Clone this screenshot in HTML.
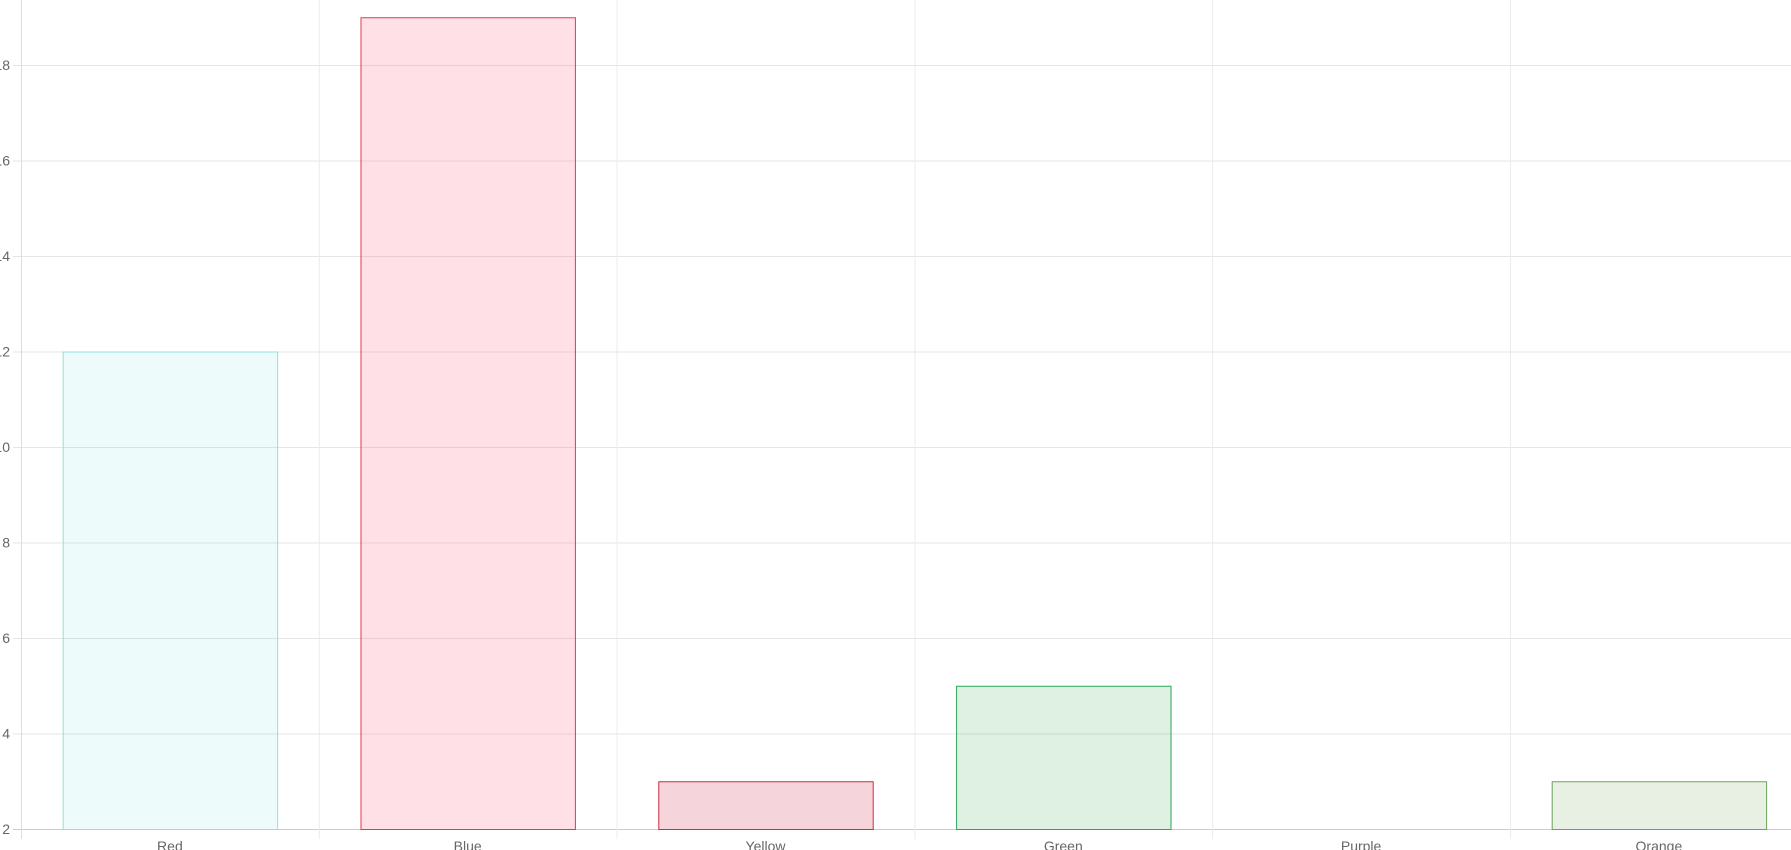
<!DOCTYPE html>
<html><head><meta charset="utf-8"><style>
html,body{margin:0;padding:0;background:#fff;overflow:hidden}
svg{display:block;font-family:"Liberation Sans",sans-serif}
</style></head><body>
<svg id="chart" width="1791" height="850" viewBox="0 0 1791 850"></svg>
<script>
const categories=["Red","Blue","Yellow","Green","Purple","Orange"];
const values=[12,19,3,5,2,3];
const yTicks=[2,4,6,8,10,12,14,16,18];
const fills=["rgba(75,220,220,0.1)","rgba(255,99,132,0.2)","rgba(210,60,90,0.22)","rgba(60,170,90,0.17)","rgba(153,102,255,0.2)","rgba(110,160,90,0.16)"];
const strokes=["#8fe3de","#e0384e","#d42a3a","#2aa55a","#9966ff","#6aa45a"];
const NS="http://www.w3.org/2000/svg";
const svg=document.getElementById('chart');
const x0=21,catW=297.8,yBase=829,yMin=2,unit=47.75;
const yPos=v=>yBase-(v-yMin)*unit;
const xPos=i=>x0+i*catW;
function mk(t,a){const e=document.createElementNS(NS,t);for(const k in a)e.setAttribute(k,a[k]);svg.appendChild(e);return e;}
yTicks.forEach(t=>{
  const l=mk('line',{x1:x0-8,x2:1791,y1:yPos(t)+0.5,y2:yPos(t)+0.5,stroke:t===yMin?'#ccc':'#e5e5e5','stroke-width':1});
  
  
  const tx=mk('text',{x:10,y:yPos(t)+5,'text-anchor':'end','font-size':14,fill:'#666'});
  tx.textContent=t;
  
  
});
for(let i=0;i<=categories.length;i++){
  const l=mk('line',{x1:xPos(i)+0.5,x2:xPos(i)+0.5,y1:0,y2:839,stroke:i===0?'#ddd':'#ebebeb','stroke-width':1});
  
  
}
categories.forEach((c,i)=>{
  const bw=catW*0.72, bx=xPos(i)+(catW-bw)/2, by=yPos(values[i]);
  if(values[i]>yMin){
    const r=mk('rect',{x:bx+0.5,y:by+0.5,width:bw,height:yBase-by,fill:fills[i],stroke:strokes[i],'stroke-width':1});
    
    
  }
  const tx=mk('text',{x:xPos(i)+catW/2,y:851,'text-anchor':'middle','font-size':14,fill:'#666'});
  tx.textContent=c;
  
  
});
</script>
</body></html>
